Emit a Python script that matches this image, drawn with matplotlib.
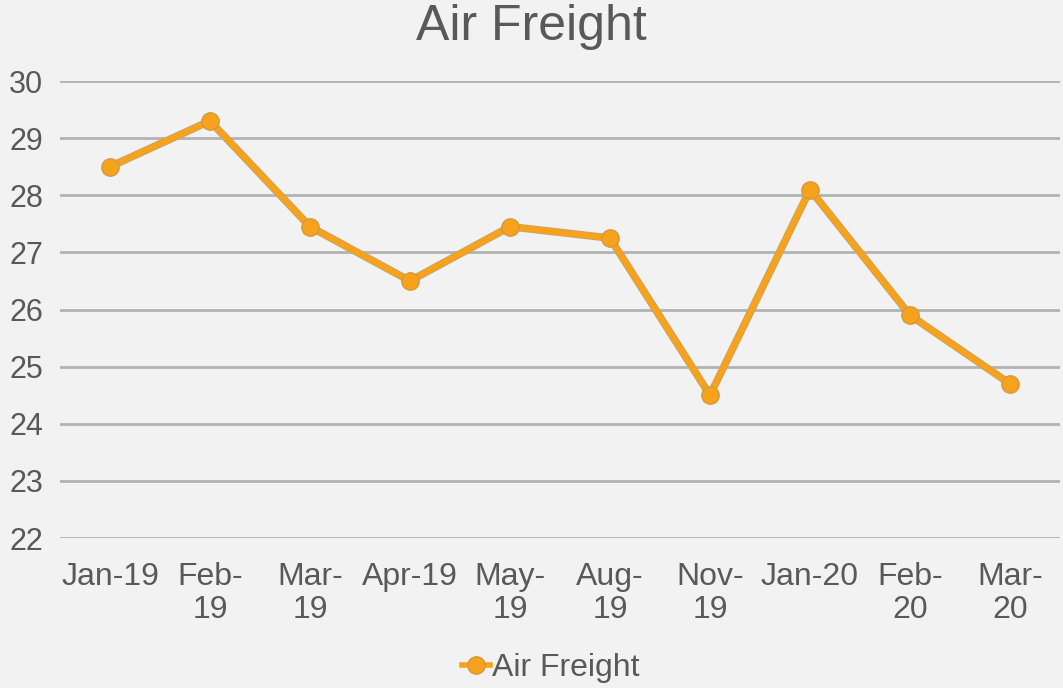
import matplotlib
matplotlib.use("Agg")
import matplotlib.pyplot as plt
import matplotlib.patheffects as pe

categories = ["Jan-19", "Feb-\n19", "Mar-\n19", "Apr-19", "May-\n19", "Aug-\n19",
              "Nov-\n19", "Jan-20", "Feb-\n20", "Mar-\n20"]
values = [28.5, 29.3, 27.45, 26.5, 27.45, 27.25, 24.5, 28.1, 25.9, 24.7]
yticks = [22, 23, 24, 25, 26, 27, 28, 29, 30]

plt.rcParams['font.family'] = ['Liberation Sans', 'DejaVu Sans']
bg = "#f2f2f2"
txt = "#595959"
orange = "#f6a21c"
fig = plt.figure(figsize=(10.63, 6.88), dpi=100, facecolor=bg)
ax = fig.add_axes([60/1063, 150/688, 1000/1063, 457/688])
ax.set_facecolor(bg)

x = list(range(len(categories)))
ax.plot(x, values, color=orange, lw=4.0, solid_joinstyle="round",
        path_effects=[pe.Stroke(linewidth=5.5, foreground="#c8a266"), pe.Normal()],
        zorder=3)
ax.plot(x, values, color=orange, lw=4.0, marker="o", markersize=12.5,
        markerfacecolor=orange, markeredgecolor="#d49a3c", markeredgewidth=1,
        linestyle="-", solid_joinstyle="round", label="Air Freight", zorder=4)

ax.set_xlim(-0.5, len(categories) - 0.5)
ax.set_ylim(22, 30)
ax.set_yticks(yticks)
ax.set_xticks(x)
ax.set_xticklabels(categories, fontsize=23, color=txt, linespacing=1.15)
ax.tick_params(axis='y', labelsize=22, labelcolor=txt, length=0, pad=12)
ax.tick_params(axis='x', length=0, pad=17)
for s in ax.spines.values():
    s.set_visible(False)
ax.grid(axis='y', color="#b3b3b3", lw=2)
ax.set_axisbelow(True)

fig.text(0.5, 1 - 27/688, "Air Freight", ha='center', va='center', fontsize=36, color=txt)
leg = fig.legend(loc='center', bbox_to_anchor=(0.518, 1 - 668/688), frameon=False,
                 fontsize=23, handlelength=0.9, handletextpad=0.05)
for t in leg.get_texts():
    t.set_color(txt)

fig.savefig("out.png", dpi=100, facecolor=bg)
